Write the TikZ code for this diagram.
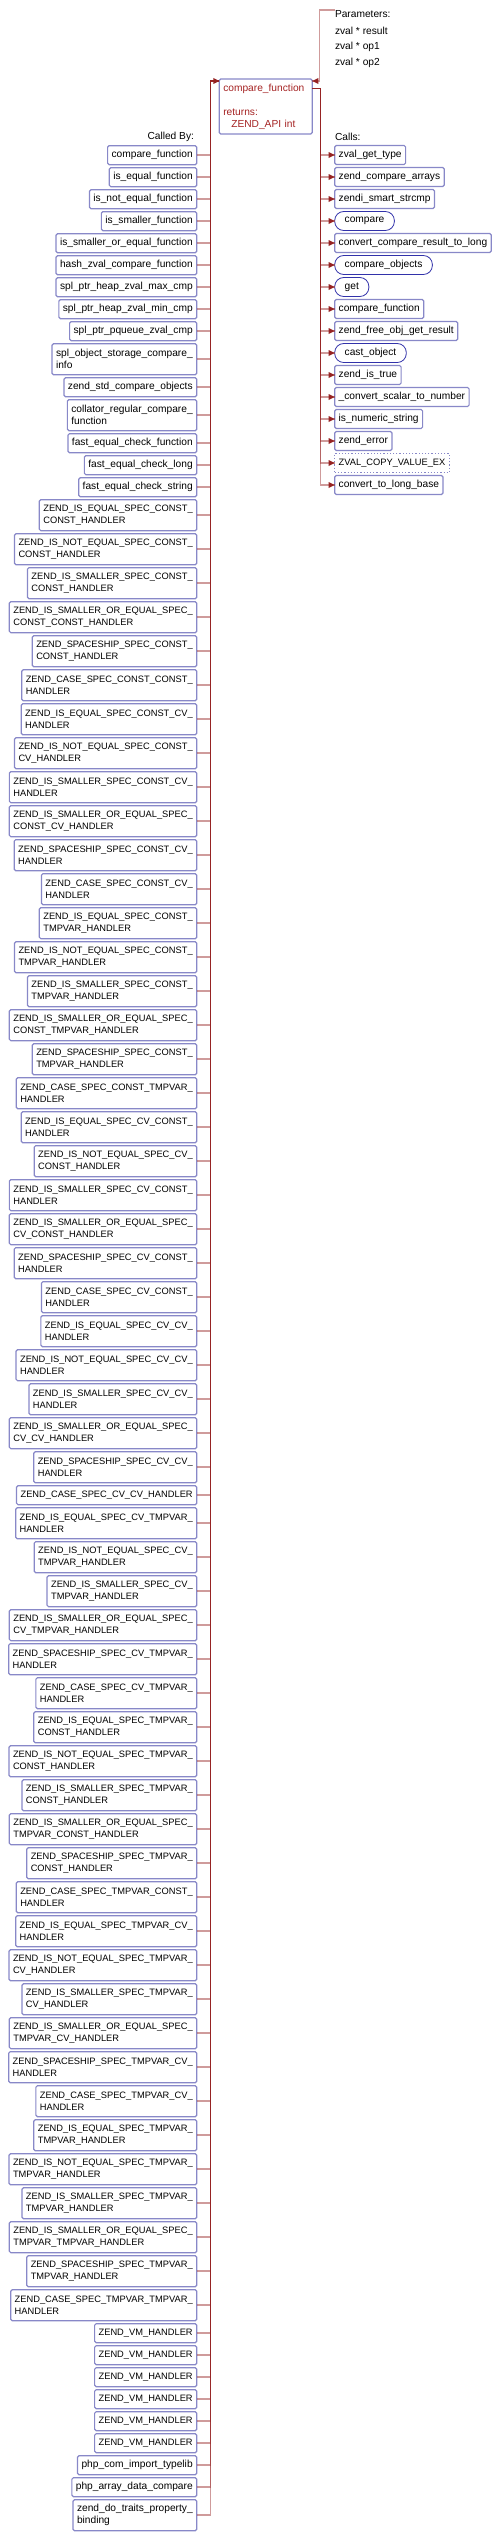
\documentclass[tikz,border=0pt]{standalone}
\usepackage{fontspec}
\setmainfont{Liberation Sans}
\definecolor{boxc}{RGB}{136,136,200}
\definecolor{navyc}{RGB}{50,50,170}
\definecolor{edgec}{RGB}{150,35,35}
\definecolor{maintext}{RGB}{165,35,35}
\newcommand{\lcf}{\fontsize{10.2}{12}\selectfont}
\newcommand{\ucf}{\fontsize{9.3}{12}\selectfont}
\newcommand{\mytipR}[1]{\fill[edgec] (#1) -- ++(-6,-3) -- ++(0,6) -- cycle;}
\newcommand{\mytipL}[1]{\fill[edgec] (#1) -- ++(6,-3) -- ++(0,6) -- cycle;}
\tikzset{
  gbox/.style={draw=boxc, line width=1.2pt, rounded corners=1.5pt, fill=white, inner xsep=4pt, inner ysep=1pt, outer sep=0pt, align=left, text=black},
  rbox/.style={draw=navyc, line width=0.8pt, rounded corners=9pt, fill=white, inner xsep=10pt, inner ysep=1pt, outer sep=0pt, minimum height=19pt, font=\lcf},
  dbox/.style={draw=boxc, line width=1.2pt, dotted, fill=white, inner xsep=4pt, inner ysep=1pt, outer sep=0pt, minimum height=19pt, font=\ucf},
  cbox/.style={gbox, minimum height=19pt, font=\lcf},
  cedge/.style={draw=edgec, draw opacity=0.45, line width=1.5pt},
  lbl/.style={font=\lcf, inner sep=0pt, outer sep=0pt},
}
\begin{document}
\catcode`\_=12
\begin{tikzpicture}[x=1pt,y=-1pt]
\fill[white] (0,0) rectangle (499,2537);
\useasboundingbox (0,0) rectangle (499,2537);

% main function
\node[draw=boxc, line width=1.2pt, rounded corners=1.5pt, fill=white, anchor=north west, text width=85pt, inner xsep=4pt, outer sep=0pt, minimum height=55pt, align=left, font=\lcf, text=maintext] (main) at (219.3,79) {compare_function\\[12pt]returns:\\\hspace*{8pt}ZEND_API int};
\coordinate (mpin) at ([yshift=-2pt]main.north east);
\coordinate (mpinL) at ([yshift=-2pt]main.north west);
\coordinate (tl) at ([xshift=-8.6pt]mpinL);
\coordinate (mout) at ([yshift=-9.3pt]main.north east);
\coordinate (tr) at ([xshift=8.4pt]mout);

% parameters
\node[lbl, anchor=west] (params) at (335,14) {Parameters:};
\node[lbl, anchor=west] (p1) at (335,31) {zval * result};
\node[lbl, anchor=west] (p2) at (335,47) {zval * op1};
\node[lbl, anchor=west] (p3) at (335,63) {zval * op2};
\draw[cedge] ([yshift=4pt]params.west) -- ++(-15.7,0) |- (mpin);
\mytipL{mpin}

% headings
\node[lbl, anchor=east] (cbl) at (194,136.7) {Called By:};
\node[lbl, anchor=west] (cl) at (335,137) {Calls:};

% calls
\node[cbox, anchor=west] (k1) at (334.7,155) {zval_get_type};
\node[cbox, anchor=west] (k2) at (334.7,177) {zend_compare_arrays};
\node[cbox, anchor=west] (k3) at (334.7,199) {zendi_smart_strcmp};
\node[rbox, anchor=west] (k4) at (334.7,221) {compare};
\node[cbox, anchor=west] (k5) at (334.7,243) {convert_compare_result_to_long};
\node[rbox, anchor=west] (k6) at (334.7,265) {compare_objects};
\node[rbox, anchor=west] (k7) at (334.7,287) {get};
\node[cbox, anchor=west] (k8) at (334.7,309) {compare_function};
\node[cbox, anchor=west] (k9) at (334.7,331) {zend_free_obj_get_result};
\node[rbox, anchor=west] (k10) at (334.7,353) {cast_object};
\node[cbox, anchor=west] (k11) at (334.7,375) {zend_is_true};
\node[cbox, anchor=west] (k12) at (334.7,397) {_convert_scalar_to_number};
\node[cbox, anchor=west] (k13) at (334.7,419) {is_numeric_string};
\node[cbox, anchor=west] (k14) at (334.7,441) {zend_error};
\node[dbox, anchor=west] (k15) at (334.7,463) {ZVAL_COPY_VALUE_EX};
\node[cbox, anchor=west] (k16) at (334.7,485) {convert_to_long_base};
\foreach \i in {1,...,16}{
  \draw[cedge] (mout) -- (tr) |- (k\i.west);
  \mytipR{k\i.west}
}

% callers
\node[gbox, minimum height=19pt, font=\lcf, anchor=north east] (c1) at (196.7,145.7) {compare_function};
\foreach \h/\f/\l [count=\i from 2] in {
 19/\lcf/{is_equal_function},
 19/\lcf/{is_not_equal_function},
 19/\lcf/{is_smaller_function},
 19/\lcf/{is_smaller_or_equal_function},
 19/\lcf/{hash_zval_compare_function},
 19/\lcf/{spl_ptr_heap_zval_max_cmp},
 19/\lcf/{spl_ptr_heap_zval_min_cmp},
 19/\lcf/{spl_ptr_pqueue_zval_cmp},
 31/\lcf/{spl_object_storage_compare_\\info},
 19/\lcf/{zend_std_compare_objects},
 31/\lcf/{collator_regular_compare_\\function},
 19/\lcf/{fast_equal_check_function},
 19/\lcf/{fast_equal_check_long},
 19/\lcf/{fast_equal_check_string},
 31/\ucf/{ZEND_IS_EQUAL_SPEC_CONST_\\CONST_HANDLER},
 31/\ucf/{ZEND_IS_NOT_EQUAL_SPEC_CONST_\\CONST_HANDLER},
 31/\ucf/{ZEND_IS_SMALLER_SPEC_CONST_\\CONST_HANDLER},
 31/\ucf/{ZEND_IS_SMALLER_OR_EQUAL_SPEC_\\CONST_CONST_HANDLER},
 31/\ucf/{ZEND_SPACESHIP_SPEC_CONST_\\CONST_HANDLER},
 31/\ucf/{ZEND_CASE_SPEC_CONST_CONST_\\HANDLER},
 31/\ucf/{ZEND_IS_EQUAL_SPEC_CONST_CV_\\HANDLER},
 31/\ucf/{ZEND_IS_NOT_EQUAL_SPEC_CONST_\\CV_HANDLER},
 31/\ucf/{ZEND_IS_SMALLER_SPEC_CONST_CV_\\HANDLER},
 31/\ucf/{ZEND_IS_SMALLER_OR_EQUAL_SPEC_\\CONST_CV_HANDLER},
 31/\ucf/{ZEND_SPACESHIP_SPEC_CONST_CV_\\HANDLER},
 31/\ucf/{ZEND_CASE_SPEC_CONST_CV_\\HANDLER},
 31/\ucf/{ZEND_IS_EQUAL_SPEC_CONST_\\TMPVAR_HANDLER},
 31/\ucf/{ZEND_IS_NOT_EQUAL_SPEC_CONST_\\TMPVAR_HANDLER},
 31/\ucf/{ZEND_IS_SMALLER_SPEC_CONST_\\TMPVAR_HANDLER},
 31/\ucf/{ZEND_IS_SMALLER_OR_EQUAL_SPEC_\\CONST_TMPVAR_HANDLER},
 31/\ucf/{ZEND_SPACESHIP_SPEC_CONST_\\TMPVAR_HANDLER},
 31/\ucf/{ZEND_CASE_SPEC_CONST_TMPVAR_\\HANDLER},
 31/\ucf/{ZEND_IS_EQUAL_SPEC_CV_CONST_\\HANDLER},
 31/\ucf/{ZEND_IS_NOT_EQUAL_SPEC_CV_\\CONST_HANDLER},
 31/\ucf/{ZEND_IS_SMALLER_SPEC_CV_CONST_\\HANDLER},
 31/\ucf/{ZEND_IS_SMALLER_OR_EQUAL_SPEC_\\CV_CONST_HANDLER},
 31/\ucf/{ZEND_SPACESHIP_SPEC_CV_CONST_\\HANDLER},
 31/\ucf/{ZEND_CASE_SPEC_CV_CONST_\\HANDLER},
 31/\ucf/{ZEND_IS_EQUAL_SPEC_CV_CV_\\HANDLER},
 31/\ucf/{ZEND_IS_NOT_EQUAL_SPEC_CV_CV_\\HANDLER},
 31/\ucf/{ZEND_IS_SMALLER_SPEC_CV_CV_\\HANDLER},
 31/\ucf/{ZEND_IS_SMALLER_OR_EQUAL_SPEC_\\CV_CV_HANDLER},
 31/\ucf/{ZEND_SPACESHIP_SPEC_CV_CV_\\HANDLER},
 19/\ucf/{ZEND_CASE_SPEC_CV_CV_HANDLER},
 31/\ucf/{ZEND_IS_EQUAL_SPEC_CV_TMPVAR_\\HANDLER},
 31/\ucf/{ZEND_IS_NOT_EQUAL_SPEC_CV_\\TMPVAR_HANDLER},
 31/\ucf/{ZEND_IS_SMALLER_SPEC_CV_\\TMPVAR_HANDLER},
 31/\ucf/{ZEND_IS_SMALLER_OR_EQUAL_SPEC_\\CV_TMPVAR_HANDLER},
 31/\ucf/{ZEND_SPACESHIP_SPEC_CV_TMPVAR_\\HANDLER},
 31/\ucf/{ZEND_CASE_SPEC_CV_TMPVAR_\\HANDLER},
 31/\ucf/{ZEND_IS_EQUAL_SPEC_TMPVAR_\\CONST_HANDLER},
 31/\ucf/{ZEND_IS_NOT_EQUAL_SPEC_TMPVAR_\\CONST_HANDLER},
 31/\ucf/{ZEND_IS_SMALLER_SPEC_TMPVAR_\\CONST_HANDLER},
 31/\ucf/{ZEND_IS_SMALLER_OR_EQUAL_SPEC_\\TMPVAR_CONST_HANDLER},
 31/\ucf/{ZEND_SPACESHIP_SPEC_TMPVAR_\\CONST_HANDLER},
 31/\ucf/{ZEND_CASE_SPEC_TMPVAR_CONST_\\HANDLER},
 31/\ucf/{ZEND_IS_EQUAL_SPEC_TMPVAR_CV_\\HANDLER},
 31/\ucf/{ZEND_IS_NOT_EQUAL_SPEC_TMPVAR_\\CV_HANDLER},
 31/\ucf/{ZEND_IS_SMALLER_SPEC_TMPVAR_\\CV_HANDLER},
 31/\ucf/{ZEND_IS_SMALLER_OR_EQUAL_SPEC_\\TMPVAR_CV_HANDLER},
 31/\ucf/{ZEND_SPACESHIP_SPEC_TMPVAR_CV_\\HANDLER},
 31/\ucf/{ZEND_CASE_SPEC_TMPVAR_CV_\\HANDLER},
 31/\ucf/{ZEND_IS_EQUAL_SPEC_TMPVAR_\\TMPVAR_HANDLER},
 31/\ucf/{ZEND_IS_NOT_EQUAL_SPEC_TMPVAR_\\TMPVAR_HANDLER},
 31/\ucf/{ZEND_IS_SMALLER_SPEC_TMPVAR_\\TMPVAR_HANDLER},
 31/\ucf/{ZEND_IS_SMALLER_OR_EQUAL_SPEC_\\TMPVAR_TMPVAR_HANDLER},
 31/\ucf/{ZEND_SPACESHIP_SPEC_TMPVAR_\\TMPVAR_HANDLER},
 31/\ucf/{ZEND_CASE_SPEC_TMPVAR_TMPVAR_\\HANDLER},
 19/\ucf/{ZEND_VM_HANDLER},
 19/\ucf/{ZEND_VM_HANDLER},
 19/\ucf/{ZEND_VM_HANDLER},
 19/\ucf/{ZEND_VM_HANDLER},
 19/\ucf/{ZEND_VM_HANDLER},
 19/\ucf/{ZEND_VM_HANDLER},
 19/\lcf/{php_com_import_typelib},
 19/\lcf/{php_array_data_compare},
 31/\lcf/{zend_do_traits_property_\\binding}}{
  \pgfmathtruncatemacro{\j}{\i-1}
  \node[gbox, minimum height=\h pt, font=\f, anchor=north east] (c\i) at ([yshift=-3pt]c\j.south east) {\l};
}
\foreach \i in {1,...,78}{
  \draw[cedge] (c\i.east) -| (tl) -- (mpinL);
}
\mytipR{mpinL}
\end{tikzpicture}
\end{document}
